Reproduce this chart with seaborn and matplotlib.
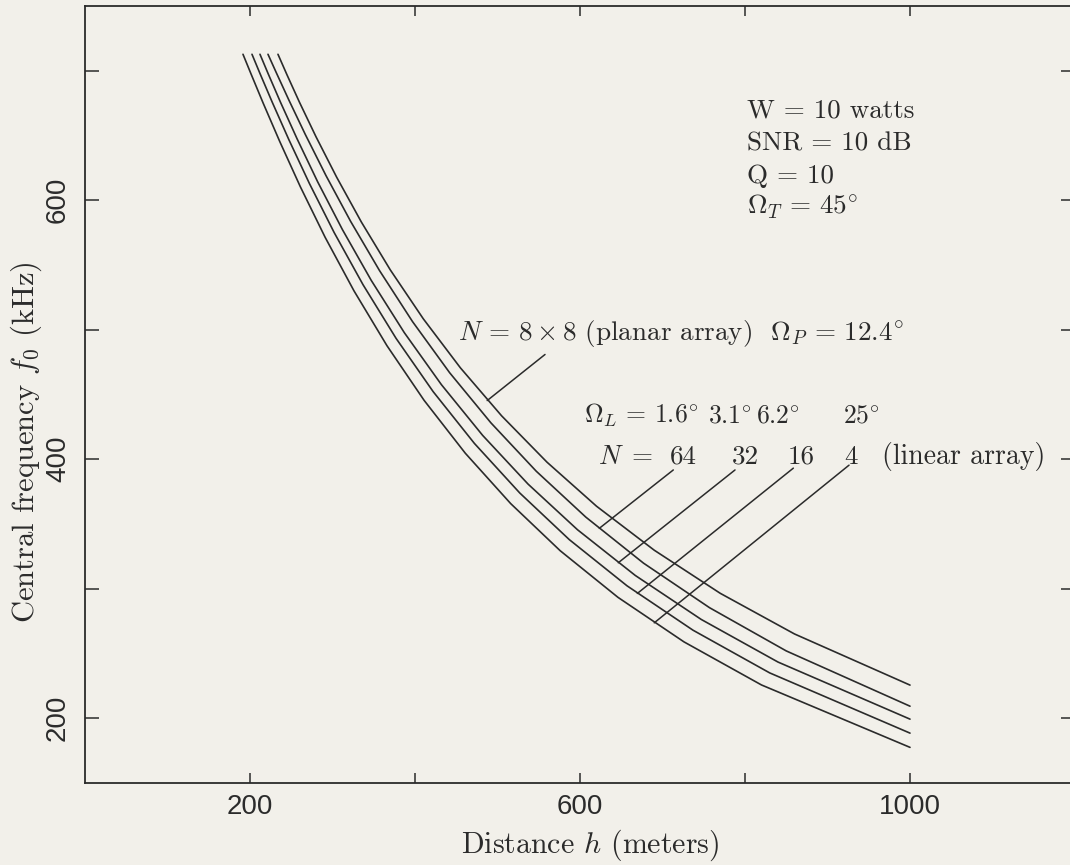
import numpy as np
import pandas as pd
import matplotlib
matplotlib.use("Agg")
import matplotlib.pyplot as plt
import seaborn as sns

# ---- data: distance h (m) vs central frequency f0 (kHz) ----
h_planar = [233.9, 245, 260, 280, 305, 335, 370, 410, 455, 505, 560, 620, 690, 770, 860, 1000]
f_planar = [712.7, 696.6, 675.6, 649.0, 617.8, 583.1, 546.2, 508.4, 470.5, 433.4, 397.6, 363.6, 329.6, 296.3, 264.9, 225.4]
h_n64 = [221.8, 232, 247, 267, 292, 322, 357, 397, 442, 492, 547, 607, 677, 757, 850, 1000]
f_n64 = [712.7, 698.3, 677.5, 650.8, 619.1, 583.6, 545.6, 506.2, 466.7, 428.0, 390.6, 355.2, 319.6, 285.2, 251.8, 209.1]
h_n32 = [212.1, 222, 237, 257, 282, 312, 347, 387, 432, 482, 537, 597, 667, 747, 840, 1000]
f_n32 = [712.7, 697.7, 675.6, 647.5, 614.2, 577.3, 538.0, 497.7, 457.5, 418.3, 380.7, 345.4, 310.1, 276.1, 243.2, 199.1]
h_n16 = [202.4, 212, 227, 247, 272, 302, 337, 377, 422, 472, 527, 587, 657, 737, 830, 1000]
f_n16 = [712.7, 698.0, 675.6, 646.9, 612.9, 575.0, 534.7, 493.3, 452.1, 412.1, 373.8, 337.8, 302.1, 267.8, 234.8, 188.3]
h_n4 = [191.5, 201, 216, 236, 261, 291, 326, 366, 411, 461, 516, 576, 646, 726, 820, 1000]
f_n4 = [712.7, 697.9, 674.9, 645.4, 610.4, 571.4, 530.0, 487.6, 445.4, 404.5, 365.6, 329.2, 293.2, 258.8, 225.5, 177.3]

series_names = ["8x8 planar", "N=64", "N=32", "N=16", "N=4"]

# leader lines (label end -> curve end), data coords
lead_planar_h = [557.6, 487.5]
lead_planar_f = [480.8, 445.2]
lead_64_h = [713.1, 623.4]
lead_64_f = [391.6, 346.5]
lead_32_h = [787.9, 646.4]
lead_32_f = [391.6, 319.9]
lead_16_h = [858.6, 669.5]
lead_16_f = [393.0, 296.2]
lead_4_h = [926.1, 690.0]
lead_4_f = [395.3, 273.5]

x_ticks = [200, 400, 600, 800, 1000]
x_ticklabels = ["200", "", "600", "", "1000"]
y_ticks = [200, 300, 400, 500, 600, 700]
y_ticklabels = ["200", "", "400", "", "600", ""]

# ---- build long table ----
frames = []
for name, hh, ff in zip(series_names,
                        [h_planar, h_n64, h_n32, h_n16, h_n4],
                        [f_planar, f_n64, f_n32, f_n16, f_n4]):
    frames.append(pd.DataFrame({"h": hh, "f": ff, "curve": name}))
df = pd.concat(frames, ignore_index=True)

sns.set_theme(style="ticks")
paper = "#f2f0ea"
ink = "#2b2b2b"
plt.rcParams["mathtext.fontset"] = "cm"
plt.rcParams["font.family"] = ["cmr10", "DejaVu Serif"]
plt.rcParams["axes.unicode_minus"] = False

W, H = 1070, 865
fig = plt.figure(figsize=(W / 100, H / 100), dpi=100, facecolor=paper)
ax = fig.add_axes([85 / W, (H - 782.7) / H, 990 / W, 776.7 / H])
ax.set_facecolor(paper)

sns.lineplot(data=df, x="h", y="f", hue="curve", units="curve", estimator=None,
             palette=[ink] * 5, linewidth=1.2, legend=False, ax=ax, sort=False)

lead_kw = dict(color=ink, linewidth=1.1)
for hh, ff in [(lead_planar_h, lead_planar_f), (lead_64_h, lead_64_f),
               (lead_32_h, lead_32_f), (lead_16_h, lead_16_f), (lead_4_h, lead_4_f)]:
    ax.plot(hh, ff, **lead_kw)

ax.set_xlim(0, 1200)
ax.set_ylim(150, 750)

for s in ax.spines.values():
    s.set_color(ink)
    s.set_linewidth(1.3)

ax.set_xticks(x_ticks)
ax.set_xticklabels(x_ticklabels)
ax.set_yticks(y_ticks)
ax.set_yticklabels(y_ticklabels)
ax.tick_params(axis="x", direction="in", length=7, width=1.1, top=True, bottom=True,
               pad=8, colors=ink, labelsize=20)
ax.tick_params(axis="y", direction="in", length=10, width=1.1, left=True, right=True,
               pad=10, colors=ink, labelsize=20, labelrotation=90)
tick_family = ["Liberation Sans", "DejaVu Sans"]
for lbl in ax.get_xticklabels():
    lbl.set_fontfamily(tick_family)
for lbl in ax.get_yticklabels():
    lbl.set_fontfamily(tick_family)
    lbl.set_verticalalignment("center")

ax.set_xlabel(r"Distance $h$ (meters)", fontsize=21.5, color=ink)
ax.xaxis.set_label_coords(0.510, -0.058)
ax.set_ylabel(r"Central frequency $f_0$ (kHz)", fontsize=22, color=ink)
ax.yaxis.set_label_coords(-0.041, 0.439)

fs = 19.5
tkw = dict(fontsize=fs, color=ink, va="baseline")
ax.text(802, 663.9, "W = 10 watts", ha="left", **tkw)
ax.text(802, 638.5, "SNR = 10 dB", ha="left", **tkw)
ax.text(802, 612.9, "Q = 10", ha="left", **tkw)
ax.text(802, 588.9, r"$\Omega_T \,=\, 45^{\circ}$", ha="left", **tkw)

ax.text(452, 492.3, r"$N \,=\, 8\times 8$ (planar array)  $\Omega_P \,=\, 12.4^{\circ}$",
        ha="left", **tkw)

okw = dict(fontsize=18.5, color=ink, va="baseline")
ax.text(604.8, 428, r"$\Omega_L \,=\, 1.6^{\circ}$", ha="left", **okw)
ax.text(781.5, 428, r"$3.1^{\circ}$", ha="center", **okw)
ax.text(840.5, 428, r"$6.2^{\circ}$", ha="center", **okw)
ax.text(940.6, 428, r"$25^{\circ}$", ha="center", **okw)

ax.text(621.8, 396.3, r"$N\;=$", ha="left", **tkw)
ax.text(725.5, 396.3, "64", ha="center", **tkw)
ax.text(800.0, 396.3, "32", ha="center", **tkw)
ax.text(867.9, 396.3, "16", ha="center", **tkw)
ax.text(928.5, 396.3, "4", ha="center", **tkw)
ax.text(966.0, 396.3, "(linear array)", ha="left", fontsize=20, color=ink, va="baseline")

fig.savefig("out.png", dpi=100, facecolor=paper)
